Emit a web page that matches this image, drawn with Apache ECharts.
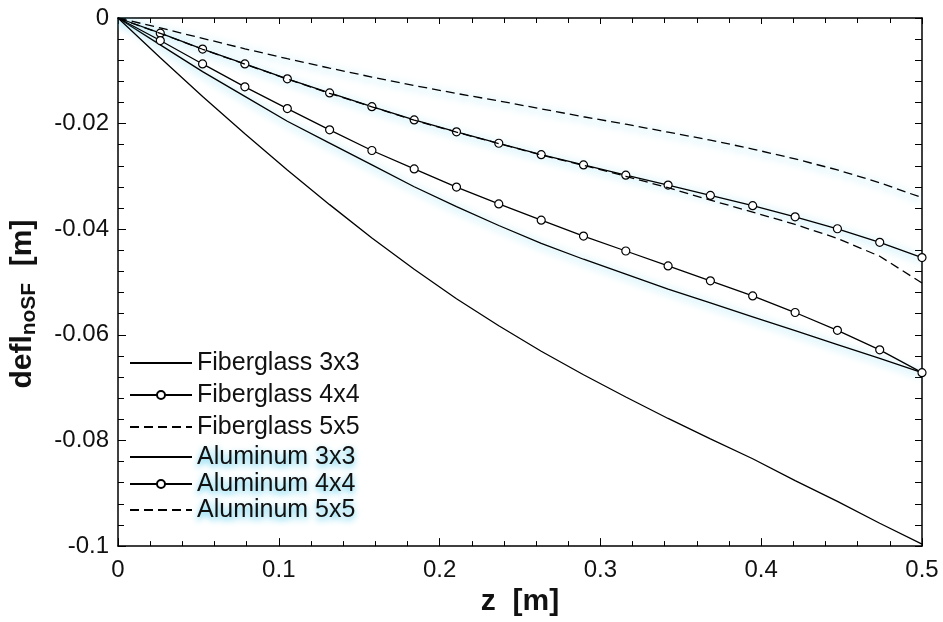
<!DOCTYPE html>
<html>
<head>
<meta charset="utf-8">
<script src="https://cdn.jsdelivr.net/npm/echarts/dist/echarts.min.js"></script>
<style>
    html, body { margin: 0; padding: 0; background: #fff; }
    #main { width: 943px; height: 622px; }
</style>
</head>
<body>
<div id="main"></div>
<script type="text/javascript">
    // z positions of the computed points [m]
    var zValues = [0, 0.0263, 0.0526, 0.0789, 0.1053, 0.1316, 0.1579, 0.1842, 0.2105, 0.2368,
                   0.2632, 0.2895, 0.3158, 0.3421, 0.3684, 0.3947, 0.4211, 0.4474, 0.4737, 0.5];

    // deflection without safety factor [m]
    var fiber3x3 = [0, -0.00752, -0.01485, -0.02192, -0.02876, -0.03534, -0.04164, -0.04756, -0.05316, -0.05827,
                    -0.06310, -0.06756, -0.07177, -0.07583, -0.07970, -0.08346, -0.08759, -0.09154, -0.09568, -0.09962];
    var fiber4x4 = [0, -0.00427, -0.00870, -0.01303, -0.01716, -0.02118, -0.02509, -0.02857, -0.03201, -0.03521,
                    -0.03829, -0.04130, -0.04412, -0.04694, -0.04976, -0.05263, -0.05577, -0.05915, -0.06284, -0.06716];
    var fiber5x5 = [0, -0.00291, -0.00592, -0.00874, -0.01156, -0.01429, -0.01682, -0.01936, -0.02162, -0.02378,
                    -0.02594, -0.02791, -0.02998, -0.03214, -0.03449, -0.03675, -0.03910, -0.04173, -0.04511, -0.05019];
    var alu3x3   = [0, -0.00508, -0.01015, -0.01485, -0.01955, -0.02368, -0.02782, -0.03195, -0.03571, -0.03929,
                    -0.04267, -0.04568, -0.04850, -0.05132, -0.05395, -0.05658, -0.05921, -0.06184, -0.06447, -0.06716];
    var alu4x4   = [0, -0.00288, -0.00588, -0.00870, -0.01152, -0.01419, -0.01679, -0.01930, -0.02156, -0.02372,
                    -0.02588, -0.02782, -0.02976, -0.03163, -0.03359, -0.03553, -0.03765, -0.03991, -0.04248, -0.04536];
    var alu5x5   = [0, -0.00188, -0.00385, -0.00583, -0.00771, -0.00949, -0.01118, -0.01278, -0.01429, -0.01570,
                    -0.01720, -0.01870, -0.02011, -0.02162, -0.02312, -0.02481, -0.02669, -0.02876, -0.03120, -0.03402];

    var seriesNames = ['Fiberglass 3x3', 'Fiberglass 4x4', 'Fiberglass 5x5',
                       'Aluminum 3x3', 'Aluminum 4x4', 'Aluminum 5x5'];
    var xTickLabels = ['0', '0.1', '0.2', '0.3', '0.4', '0.5'];
    var yTickLabels = ['-0.1', '-0.08', '-0.06', '-0.04', '-0.02', '0'];

    var FONT = 'Liberation Sans, Arial, sans-serif';
    var myChart = echarts.init(document.getElementById('main'));

    function pairs(vals) {
        return zValues.map(function (z, i) { return [z, vals[i]]; });
    }

    // highlighter marks on the aluminum curves
    var glow = { shadowColor: 'rgba(70,200,235,0.95)', shadowBlur: 8, shadowOffsetY: 2 };

    function mkSeries(name, vals, dashed, circles, hilite) {
        var ls = { color: '#000', width: 1.3, type: dashed ? [9, 5] : 'solid' };
        if (hilite) { for (var k in glow) ls[k] = glow[k]; }
        return {
            name: name,
            type: 'line',
            data: pairs(vals),
            showSymbol: circles,
            symbol: 'circle',
            symbolSize: function (v, p) { return p.dataIndex === 0 ? 0 : 8; },
            itemStyle: { color: circles ? '#fff' : '#000', borderColor: '#000', borderWidth: 1.2 },
            lineStyle: ls,
            emphasis: { disabled: true },
            z: hilite ? 2 : 3
        };
    }

    // one legend per row, rows are not evenly spaced in the original
    var legendRows = [363, 395, 427, 457, 484, 510];
    var legends = seriesNames.map(function (n, i) {
        var hasCircle = (i === 1 || i === 4);
        var hil = i >= 3;
        return {
            left: 129,
            top: legendRows[i] - 13,
            padding: 0,
            itemWidth: 62,
            itemHeight: 10,
            selectedMode: false,
            data: [{ name: n, itemStyle: hasCircle ? {} : { opacity: 0 } }],
            textStyle: {
                fontFamily: FONT, fontSize: 25, color: '#111', lineHeight: 26,
                textShadowColor: hil ? 'rgba(70,200,235,0.95)' : 'transparent',
                textShadowBlur: hil ? 6 : 0, textShadowOffsetY: hil ? 3 : 0
            }
        };
    });

    var axisLine = { onZero: false, lineStyle: { color: '#000', width: 1.5 } };
    var tickStyle = { color: '#000', width: 1 };

    option = {
        animation: false,
        backgroundColor: '#fff',
        grid: { left: 118, right: 21, top: 18, bottom: 72 },
        legend: legends,
        xAxis: [{
            type: 'value', min: 0, max: 0.5, interval: 0.1, position: 'bottom',
            axisLine: axisLine,
            axisTick: { inside: true, length: 8, lineStyle: tickStyle },
            minorTick: { show: true, splitNumber: 5, length: 5, lineStyle: tickStyle },
            splitLine: { show: false },
            axisLabel: {
                color: '#111', fontFamily: FONT, fontSize: 24, margin: 12,
                formatter: function (v) { return xTickLabels[Math.round(v / 0.1)]; }
            },
            name: 'z  [m]', nameLocation: 'middle', nameGap: 38,
            nameTextStyle: { color: '#111', fontFamily: FONT, fontSize: 30, fontWeight: 'bold' }
        }, {
            type: 'value', min: 0, max: 0.5, interval: 0.1, position: 'top',
            axisLine: axisLine,
            axisTick: { inside: true, length: 6, lineStyle: tickStyle },
            minorTick: { show: true, splitNumber: 5, length: 5, lineStyle: tickStyle },
            splitLine: { show: false },
            axisLabel: { show: false }
        }],
        yAxis: [{
            type: 'value', min: -0.1, max: 0, interval: 0.02, position: 'left',
            axisLine: axisLine,
            axisTick: { inside: true, length: 8, lineStyle: tickStyle },
            minorTick: { show: true, splitNumber: 5, length: 6, lineStyle: tickStyle },
            splitLine: { show: false },
            axisLabel: {
                color: '#111', fontFamily: FONT, fontSize: 24, margin: 9,
                formatter: function (v) { return yTickLabels[Math.round((v + 0.1) / 0.02)]; }
            },
            name: '{a|defl}{b|noSF}{a|  [m]}', nameLocation: 'middle', nameGap: 78, nameRotate: 90,
            nameTextStyle: {
                padding: [0, 44, 0, 0],
                rich: {
                    a: { color: '#111', fontFamily: FONT, fontSize: 30, fontWeight: 'bold' },
                    b: { color: '#111', fontFamily: FONT, fontSize: 21, fontWeight: 'bold', padding: [13, 0, 0, 0] }
                }
            }
        }, {
            type: 'value', min: -0.1, max: 0, interval: 0.02, position: 'right',
            axisLine: axisLine,
            axisTick: { inside: true, length: 7, lineStyle: tickStyle },
            minorTick: { show: true, splitNumber: 5, length: 7, lineStyle: tickStyle },
            splitLine: { show: false },
            axisLabel: { show: false }
        }],
        series: [
            mkSeries(seriesNames[0], fiber3x3, false, false, false),
            mkSeries(seriesNames[1], fiber4x4, false, true, false),
            mkSeries(seriesNames[2], fiber5x5, true, false, false),
            mkSeries(seriesNames[3], alu3x3, false, false, true),
            mkSeries(seriesNames[4], alu4x4, false, true, true),
            mkSeries(seriesNames[5], alu5x5, true, false, true)
        ]
    };
    myChart.setOption(option);
</script>
</body>
</html>
